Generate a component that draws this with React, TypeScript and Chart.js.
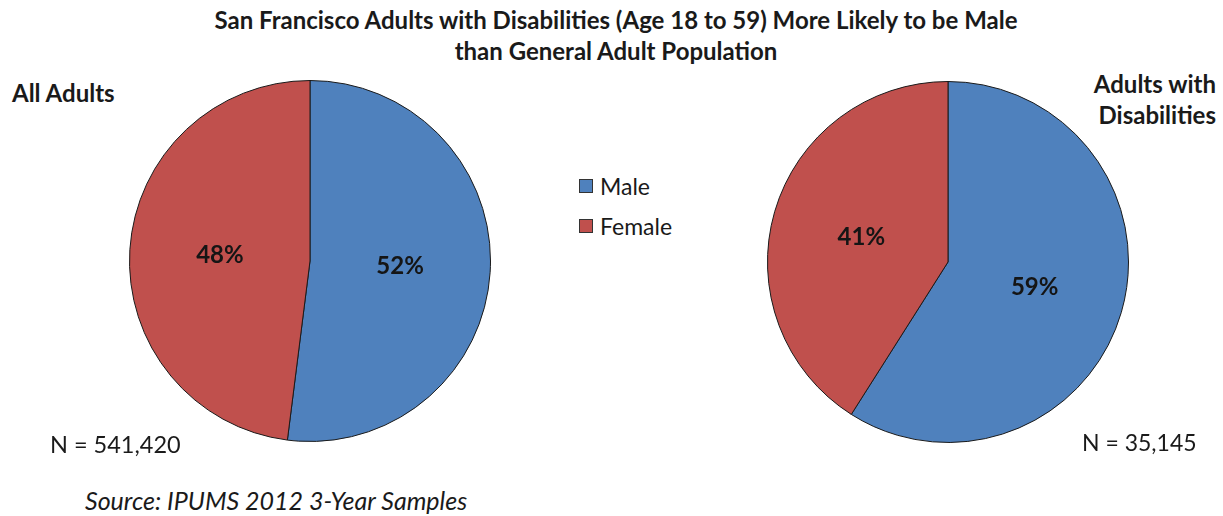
import React, { useEffect, useRef } from "react";
import { Chart, registerables } from "chart.js";

Chart.register(...registerables);

const categories = ["Male", "Female"];
const allAdultsValues = [52, 48];
const disabledValues = [59, 41];
const seriesColors = ["#4F81BD", "#C0504D"];
const titleLines = [
  "San Francisco Adults with Disabilities (Age 18 to 59) More Likely to be Male",
  "than General Adult Population",
];
const leftLabel = "All Adults";
const rightLabelLines = ["Adults with", "Disabilities"];
const leftN = "N = 541,420";
const rightN = "N = 35,145";
const sourceText = "Source: IPUMS 2012 3-Year Samples";

const FONT = "Lato, 'Open Sans', sans-serif";

const pctLabelPlugin = {
  id: "pctLabels",
  afterDatasetsDraw(chart: any) {
    const ctx = chart.ctx;
    const meta = chart.getDatasetMeta(0);
    const data = chart.data.datasets[0].data as number[];
    ctx.save();
    ctx.font = `bold 24px ${FONT}`;
    ctx.fillStyle = "#151515";
    ctx.textAlign = "center";
    ctx.textBaseline = "middle";
    meta.data.forEach((arc: any, i: number) => {
      const { x, y, startAngle, endAngle, outerRadius } = arc.getProps(
        ["x", "y", "startAngle", "endAngle", "outerRadius"],
        true
      );
      const mid = (startAngle + endAngle) / 2;
      const r = outerRadius * 0.5;
      ctx.fillText(`${data[i]}%`, x + Math.cos(mid) * r, y + Math.sin(mid) * r);
    });
    ctx.restore();
  },
};

function PieChart({ values, style }: { values: number[]; style: React.CSSProperties }) {
  const ref = useRef<HTMLCanvasElement>(null);
  useEffect(() => {
    if (!ref.current) return;
    const chart = new Chart(ref.current, {
      type: "pie",
      data: {
        labels: categories,
        datasets: [
          {
            data: values,
            backgroundColor: seriesColors,
            borderColor: "#1a1a1a",
            borderWidth: 1,
          },
        ],
      },
      options: {
        responsive: false,
        animation: false,
        layout: { padding: 0 },
        plugins: {
          legend: { display: false },
          tooltip: { enabled: false },
          title: { display: false },
        },
      },
      plugins: [pctLabelPlugin],
    });
    return () => chart.destroy();
  }, [values]);
  return <canvas ref={ref} width={362} height={362} style={{ position: "absolute", ...style }} />;
}

export default function App() {
  const abs = (s: React.CSSProperties): React.CSSProperties => ({
    position: "absolute",
    fontFamily: FONT,
    color: "#1a1a1a",
    whiteSpace: "nowrap",
    ...s,
  });
  return (
    <div
      style={{
        position: "absolute",
        left: 0,
        top: 0,
        width: 1223,
        height: 516,
        background: "#ffffff",
        overflow: "hidden",
      }}
    >
      <div
        style={abs({
          left: 0,
          width: 1232,
          top: 4,
          textAlign: "center",
          fontWeight: "bold",
          fontSize: 24,
          lineHeight: "31px",
        })}
      >
        {titleLines.map((t) => (
          <div key={t}>{t}</div>
        ))}
      </div>
      <div style={abs({ left: 12, top: 78, fontWeight: "bold", fontSize: 24, lineHeight: "30px" })}>{leftLabel}</div>
      <div
        style={abs({
          right: 7,
          top: 68,
          fontWeight: "bold",
          fontSize: 24,
          lineHeight: "31px",
          textAlign: "right",
        })}
      >
        {rightLabelLines.map((t) => (
          <div key={t}>{t}</div>
        ))}
      </div>
      <PieChart values={allAdultsValues} style={{ left: 129, top: 80 }} />
      <PieChart values={disabledValues} style={{ left: 767, top: 81 }} />
      {categories.map((c, i) => (
        <div
          key={c}
          style={abs({
            left: 579,
            top: 171 + i * 40,
            fontSize: 23,
            lineHeight: "30px",
            display: "flex",
            alignItems: "center",
          })}
        >
          <span
            style={{
              display: "inline-block",
              width: 12,
              height: 12,
              background: seriesColors[i],
              border: "1px solid #333",
              marginRight: 7,
            }}
          />
          <span>{c}</span>
        </div>
      ))}
      <div style={abs({ left: 50, top: 429, fontSize: 23.5, lineHeight: "30px" })}>{leftN}</div>
      <div style={abs({ left: 1082, top: 427, fontSize: 23, lineHeight: "30px" })}>{rightN}</div>
      <div style={abs({ left: 85, top: 485, fontSize: 25, lineHeight: "30px", fontStyle: "italic" })}>
        {sourceText}
      </div>
    </div>
  );
}
